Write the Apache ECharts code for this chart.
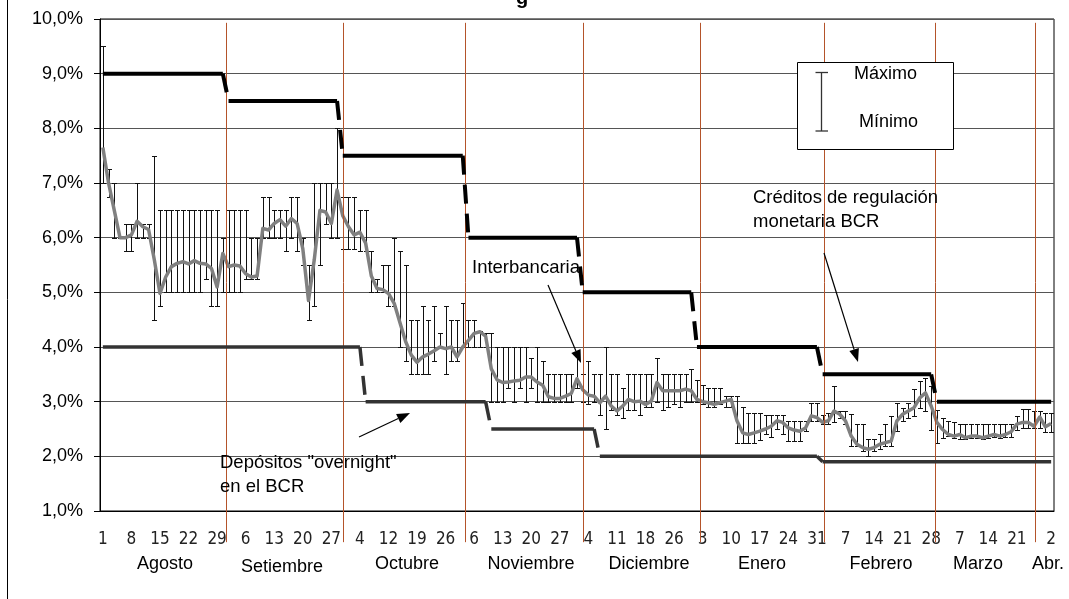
<!DOCTYPE html>
<html>
<head>
<meta charset="utf-8">
<script src="https://cdn.jsdelivr.net/npm/echarts@6.0.0/dist/echarts.min.js"></script>
<style>
  html, body { margin: 0; padding: 0; background: #fff; }
  #main { width: 1069px; height: 599px; }
</style>
</head>
<body>
<div id="main"></div>
<script>
// business days shown on the axis (day of month), Aug 2001 -> Apr 2002
const augDays = [1,2,3,6,7,8,9,10,13,14,15,16,17,20,21,22,23,24,27,28,29,31];
const sepDays = [3,4,5,6,7,10,11,12,13,14,17,18,19,20,21,24,25,26,27,28];
const octDays = [1,2,3,4,5,9,10,11,12,15,16,17,18,19,22,23,24,25,26,29,30,31];
const novDays = [5,6,7,8,9,12,13,14,15,16,19,20,21,22,23,26,27,28,29,30];
const decDays = [3,4,5,6,7,10,11,12,13,14,17,18,19,20,21,24,26,27,28,31];
const janDays = [2,3,4,7,8,9,10,11,14,15,16,17,18,21,22,23,24,25,28,29,30,31];
const febDays = [1,4,5,6,7,8,11,12,13,14,15,18,19,20,21,22,25,26,27,28];
const marDays = [1,4,5,6,7,8,11,12,13,14,15,18,19,20,21,22,25,26,27];
const aprDays = [1,2];
const monthAbbr = ['Ago','Set','Oct','Nov','Dic','Ene','Feb','Mar','Abr'];
const monthNames = ['Agosto','Setiembre','Octubre','Noviembre','Diciembre','Enero','Febrero','Marzo','Abr.'];

// interbank rate: daily average, maximum and minimum (%)
const interbank = [
  7.65,7.0,6.5,6.0,6.0,6.05,6.3,6.2,6.15,5.6, 4.98,5.28,5.47,5.53,5.56,5.52,5.58,5.53,5.52,5.44,
  5.1,5.71,5.47,5.5,5.48,5.34,5.28,5.3,6.17,6.14, 6.26,6.33,6.21,6.35,6.26,5.8,4.85,5.59,6.5,6.47,
  6.26,6.87,6.4,6.2,6.05,6.1,5.9,5.3,5.07,5.05, 4.98,4.8,4.45,4.1,3.85,3.72,3.82,3.87,3.93,4.0,
  3.97,4.0,3.82,4.0,4.12,4.25,4.28,4.2,3.6,3.4, 3.35,3.36,3.38,3.39,3.45,3.45,3.36,3.3,3.09,3.06,
  3.06,3.1,3.15,3.42,3.22,3.12,3.1,2.98,3.1,2.92, 2.83,2.92,3.04,3.0,3.01,2.95,3.01,3.35,3.2,3.2,
  3.2,3.2,3.23,3.2,3.04,3.0,2.98,2.95,2.98,3.01, 3.04,2.65,2.43,2.4,2.43,2.46,2.5,2.55,2.65,2.62,
  2.52,2.48,2.46,2.52,2.74,2.71,2.62,2.65,2.83,2.77, 2.65,2.37,2.22,2.16,2.13,2.16,2.22,2.25,2.28,2.65,
  2.77,2.83,2.89,3.07,3.16,2.92,2.62,2.49,2.4,2.37, 2.4,2.34,2.37,2.37,2.34,2.37,2.4,2.37,2.4,2.45,
  2.59,2.62,2.62,2.55,2.72,2.54,2.6
];
const maxRate = [
  9.5,7.25,7.0,6.0,6.25,6.25,7.0,6.25,6.25,7.5, 6.5,6.5,6.5,6.5,6.5,6.5,6.5,6.5,6.5,6.5,
  6.5,6.0,6.5,6.5,6.5,6.5,6.0,6.0,6.75,6.75, 6.5,6.5,6.5,6.75,6.75,6.0,5.5,7.0,7.0,7.0,
  7.0,8.0,6.75,6.75,6.75,6.5,6.5,5.75,5.25,5.5, 5.5,6.0,5.75,5.5,4.5,4.5,4.75,4.5,4.75,4.25,
  4.75,4.5,4.5,4.8,4.5,4.5,4.3,4.25,4.25,4.0, 4.0,4.0,4.0,4.0,4.0,3.8,4.0,3.75,3.5,3.5,
  3.5,3.5,3.5,3.87,3.5,3.75,3.5,3.5,4.0,3.5, 3.5,3.25,3.5,3.5,3.5,3.5,3.5,3.8,3.5,3.5,
  3.5,3.5,3.5,3.6,3.4,3.3,3.25,3.25,3.25,3.1, 3.1,3.1,2.9,2.8,2.8,2.8,2.75,2.75,2.75,2.75,
  2.65,2.65,2.65,2.65,2.98,2.98,2.75,2.8,3.29,2.83, 2.83,2.77,2.59,2.59,2.31,2.31,2.4,2.59,2.74,2.98,
  2.89,2.98,3.23,3.38,3.44,3.29,2.84,2.71,2.65,2.62, 2.59,2.59,2.59,2.6,2.6,2.6,2.6,2.6,2.6,2.6,
  2.74,2.86,2.86,2.83,2.83,2.8,2.8
];
const minRate = [
  7.0,6.75,6.0,6.0,5.75,5.75,6.0,6.0,6.0,4.5, 4.75,5.0,5.0,5.0,5.0,5.0,5.0,5.0,5.25,4.75,
  4.75,5.0,5.0,5.0,5.0,5.25,5.25,5.25,6.0,6.0, 6.0,6.0,5.75,6.0,5.75,5.5,4.5,4.75,5.5,6.25,
  6.0,6.0,5.8,5.8,5.8,5.75,5.75,5.0,5.0,5.0, 4.75,4.75,4.0,3.75,3.5,3.5,3.5,3.5,3.75,4.0,
  3.5,3.75,3.75,4.0,4.0,4.0,4.0,4.0,3.0,3.0, 3.0,3.25,3.0,3.25,3.0,3.25,3.0,3.0,3.0,3.0,
  3.0,3.0,3.0,3.25,3.0,2.95,3.0,2.75,2.5,2.85, 2.75,2.7,2.85,2.85,2.75,2.9,2.9,3.0,2.85,2.9,
  2.95,2.9,3.0,3.0,3.0,2.95,2.9,2.9,2.95,2.9, 2.9,2.25,2.25,2.25,2.25,2.3,2.4,2.35,2.5,2.4,
  2.28,2.28,2.28,2.46,2.65,2.65,2.6,2.59,2.62,2.71, 2.6,2.19,2.19,2.1,2.0,2.1,2.13,2.19,2.19,2.46,
  2.65,2.71,2.74,2.89,2.83,2.49,2.25,2.34,2.37,2.34, 2.31,2.31,2.33,2.33,2.31,2.33,2.35,2.33,2.35,2.35,
  2.49,2.52,2.52,2.52,2.52,2.45,2.45
];

// BCR rates (step changes: rate and first business-day index)
const creditRate = [9.0, 8.5, 7.5, 6.0, 5.0, 4.0, 3.5, 3.0];
const creditFrom = [0, 22, 42, 64, 84, 104, 126, 146];
const overnightRate = [4.0, 3.0, 2.5, 2.0, 1.9];
const overnightFrom = [0, 46, 68, 87, 126];

// month separators, in category units
const monthBreaks = [21.6, 42.0, 63.4, 84.0, 104.6, 126.3, 145.6, 163.2];

const categories = [];
[augDays, sepDays, octDays, novDays, decDays, janDays, febDays, marDays, aprDays].forEach(function (days, m) {
  days.forEach(function (d) { categories.push(d + ' ' + monthAbbr[m]); });
});

// one item per constant stretch: [first index, last index, rate, next rate]
function stepRuns(rates, from) {
  return rates.map(function (r, k) {
    const end = k + 1 < from.length ? from[k + 1] - 1 : categories.length - 1;
    const next = k + 1 < rates.length ? rates[k + 1] : null;
    return [from[k], end, r, next];
  });
}

const errorData = interbank.map(function (v, i) { return [i, minRate[i], maxRate[i]]; });

function stepRenderer(color, width) {
  return function (params, api) {
    const s = api.value(0), e = api.value(1), v = api.value(2), nv = api.value(3);
    const p0 = api.coord([s, v]);
    const p1 = api.coord([e, v]);
    const children = [{
      type: 'line',
      shape: { x1: p0[0], y1: p0[1], x2: p1[0], y2: p1[1] },
      style: { stroke: color, lineWidth: width, lineCap: 'butt' }
    }];
    if (!isNaN(nv)) {
      const p2 = api.coord([e + 1, nv]);
      children.push({
        type: 'line',
        shape: { x1: p1[0], y1: p1[1], x2: p2[0], y2: p2[1] },
        style: { stroke: color, lineWidth: width, lineDash: [19, 10], lineCap: 'butt' }
      });
    }
    return { type: 'group', children: children };
  };
}

function renderErrorBar(params, api) {
  const i = api.value(0);
  const bot = api.coord([i, api.value(1)]);
  const top = api.coord([i, api.value(2)]);
  const x = Math.round(top[0]) + 0.5;
  const yt = Math.round(top[1]) + 0.5, yb = Math.round(bot[1]) + 0.5;
  const half = 2.5;
  const st = { stroke: '#111', lineWidth: 1 };
  return {
    type: 'group',
    children: [
      { type: 'line', shape: { x1: x, y1: yt, x2: x, y2: yb }, style: st },
      { type: 'line', shape: { x1: x - half, y1: yt, x2: x + half, y2: yt }, style: st },
      { type: 'line', shape: { x1: x - half, y1: yb, x2: x + half, y2: yb }, style: st }
    ]
  };
}

function renderBreak(params, api) {
  const pos = monthBreaks[params.dataIndex];
  const base = Math.floor(pos);
  const band = api.size([1, 0])[0];
  const top = api.coord([base, 9.93]);
  const bottom = api.coord([base, 0.43]);
  const x = Math.round(top[0] + (pos - base) * band) + 0.5;
  return {
    type: 'line',
    shape: { x1: x, y1: top[1], x2: x, y2: bottom[1] },
    style: { stroke: '#b4532a', lineWidth: 1 }
  };
}

function arrow(x1, y1, x2, y2) {
  const ang = Math.atan2(y2 - y1, x2 - x1);
  const len = 13, wid = 5;
  const bx = x2 - len * Math.cos(ang), by = y2 - len * Math.sin(ang);
  const px = -Math.sin(ang) * wid, py = Math.cos(ang) * wid;
  return [
    { type: 'line', z: 100, shape: { x1: x1, y1: y1, x2: bx, y2: by }, style: { stroke: '#000', lineWidth: 1.2 } },
    { type: 'polygon', z: 100, shape: { points: [[x2, y2], [bx + px, by + py], [bx - px, by - py]] }, style: { fill: '#000' } }
  ];
}

function label(text, x, y, size, align) {
  return {
    type: 'text', z: 100, x: x, y: y,
    style: {
      text: text, fill: '#000', fontFamily: 'Liberation Sans, Arial, sans-serif', fontSize: size,
      align: align || 'left', textAlign: align || 'left', verticalAlign: 'middle', textVerticalAlign: 'middle'
    }
  };
}

const monthLabelX = [165, 282, 407, 531, 649, 762, 881, 978, 1048];
const monthLabelY = [564, 567, 564, 564, 564, 564, 564, 564, 564];

const graphics = [
  { type: 'line', shape: { x1: 7.5, y1: 0, x2: 7.5, y2: 599 }, style: { stroke: '#000', lineWidth: 1 } },
  { type: 'text', x: 516, y: 8, style: { text: 'g', fill: '#000', fontFamily: 'Liberation Sans, Arial', fontWeight: 'bold', fontSize: 20, verticalAlign: 'bottom', textVerticalAlign: 'bottom' } },
  // legend box
  { type: 'rect', z: 100, shape: { x: 797.5, y: 62.5, width: 156, height: 87 }, style: { fill: '#fff', stroke: '#000', lineWidth: 1 } },
  { type: 'line', z: 101, shape: { x1: 821.5, y1: 72.5, x2: 821.5, y2: 131 }, style: { stroke: '#333', lineWidth: 1.3 } },
  { type: 'line', z: 101, shape: { x1: 815.5, y1: 72.5, x2: 828, y2: 72.5 }, style: { stroke: '#333', lineWidth: 1.3 } },
  { type: 'line', z: 101, shape: { x1: 815.5, y1: 131, x2: 828, y2: 131 }, style: { stroke: '#333', lineWidth: 1.3 } },
  label('Máximo', 854, 74, 18),
  label('Mínimo', 859, 122, 18),
  // annotations
  label('Interbancaria', 472, 268, 18.5),
  label('Créditos de regulación', 753, 198, 18.5),
  label('monetaria BCR', 753, 222, 18.5),
  label('Depósitos "overnight"', 220, 463, 18.5),
  label('en el BCR', 220, 487, 18.5)
].concat(
  arrow(548, 285, 581, 363),
  arrow(824, 253, 858, 362),
  arrow(359, 437, 410, 413),
  monthNames.map(function (m, k) { return label(m, monthLabelX[k], monthLabelY[k], 18, 'center'); })
);

const chart = echarts.init(document.getElementById('main'));
const option = {
  animation: false,
  backgroundColor: '#fff',
  grid: {
    left: 100, top: 19, width: 954, height: 492,
    show: true, borderColor: '#000', borderWidth: 1, backgroundColor: 'transparent'
  },
  xAxis: {
    type: 'category',
    data: categories,
    boundaryGap: true,
    axisLine: { lineStyle: { color: '#000', width: 1 } },
    axisTick: { interval: 0, length: 6, lineStyle: { color: '#000' } },
    axisLabel: {
      interval: function (i) { return (i % 5 === 0 && i < 165) || i === 166; },
      formatter: function (v) { return v.split(' ')[0]; },
      margin: 20,
      color: '#222',
      fontFamily: 'Liberation Sans Narrow, DejaVu Sans Condensed, sans-serif',
      fontSize: 17
    },
    splitLine: { show: false }
  },
  yAxis: {
    type: 'value',
    min: 1,
    max: 10,
    interval: 1,
    axisLine: { show: true, lineStyle: { color: '#000', width: 1 } },
    axisTick: { show: true, length: 6, lineStyle: { color: '#000' } },
    axisLabel: {
      formatter: function (v) { return v.toFixed(1).replace('.', ',') + '%'; },
      margin: 17,
      color: '#000',
      fontFamily: 'Liberation Sans, Arial, sans-serif',
      fontSize: 18
    },
    splitLine: { lineStyle: { color: '#555', width: 1 } }
  },
  series: [
    {
      name: 'Máximo / Mínimo',
      type: 'custom',
      renderItem: renderErrorBar,
      data: errorData,
      encode: { x: 0, y: [1, 2] },
      silent: true,
      z: 2
    },
    {
      name: 'Interbancaria',
      type: 'line',
      data: interbank,
      showSymbol: false,
      lineStyle: { color: '#808080', width: 3.5, join: 'round' },
      silent: true,
      z: 3
    },
    {
      name: 'Meses',
      type: 'custom',
      renderItem: renderBreak,
      data: monthBreaks.map(function (v) { return [Math.floor(v), 5]; }),
      encode: { x: 0, y: 1 },
      clip: false,
      silent: true,
      z: 4
    },
    {
      name: 'Depósitos overnight',
      type: 'custom',
      renderItem: stepRenderer('#333333', 3.5),
      data: stepRuns(overnightRate, overnightFrom),
      encode: { x: [0, 1], y: [2, 3] },
      silent: true,
      z: 5
    },
    {
      name: 'Créditos de regulación monetaria',
      type: 'custom',
      renderItem: stepRenderer('#000000', 4),
      data: stepRuns(creditRate, creditFrom),
      encode: { x: [0, 1], y: [2, 3] },
      silent: true,
      z: 6
    }
  ],
  graphic: graphics
};
chart.setOption(option);

window.addEventListener('resize', function () { chart.resize(); });
</script>
</body>
</html>
